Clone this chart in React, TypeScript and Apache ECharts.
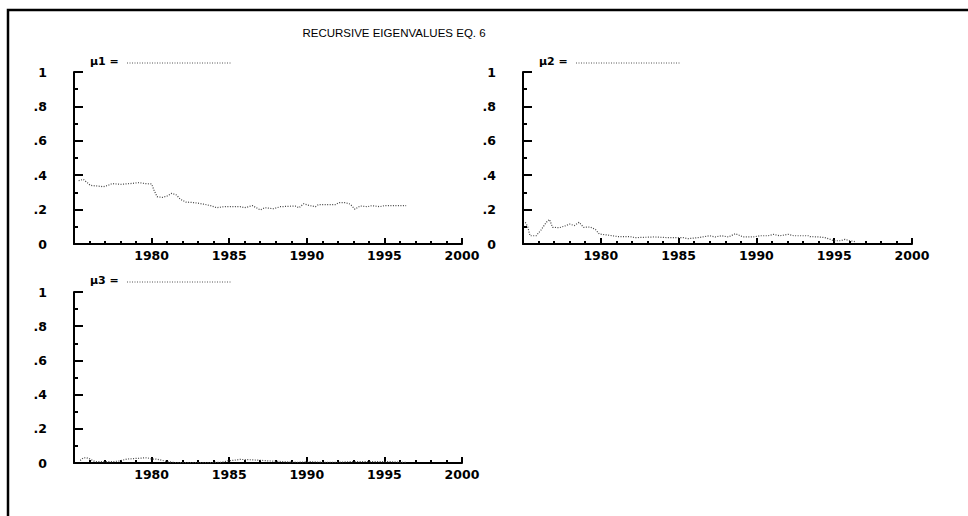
import React, { useEffect, useRef } from "react";
import * as echarts from "echarts";

const titleText = "RECURSIVE EIGENVALUES EQ. 6";
const legendNames = ["\u03bc1", "\u03bc2", "\u03bc3"];
const yTickLabels: Record<string, string> = { "0": "0", "0.2": ".2", "0.4": ".4", "0.6": ".6", "0.8": ".8", "1": "1" };

const mu1Years = [1975.3, 1975.6, 1975.85, 1976.05, 1976.5, 1976.9, 1977.2, 1977.45, 1978.0, 1978.6, 1979.2, 1979.6, 1980.0, 1980.15, 1980.35, 1980.7, 1981.0, 1981.3, 1981.6, 1981.85, 1982.2, 1982.8, 1983.4, 1983.8, 1984.2, 1984.65, 1985.7, 1986.0, 1986.5, 1987.0, 1987.3, 1987.85, 1988.3, 1989.25, 1989.5, 1989.8, 1990.2, 1990.55, 1990.75, 1991.85, 1992.05, 1992.5, 1992.8, 1993.1, 1993.45, 1993.9, 1994.2, 1994.7, 1995.0, 1996.4];
const mu1Values = [0.368, 0.376, 0.357, 0.341, 0.337, 0.333, 0.341, 0.351, 0.347, 0.351, 0.357, 0.351, 0.349, 0.314, 0.275, 0.271, 0.279, 0.295, 0.285, 0.26, 0.244, 0.24, 0.231, 0.223, 0.211, 0.217, 0.217, 0.211, 0.223, 0.198, 0.211, 0.205, 0.217, 0.221, 0.211, 0.234, 0.223, 0.217, 0.229, 0.229, 0.24, 0.24, 0.232, 0.202, 0.221, 0.217, 0.223, 0.217, 0.223, 0.223];

const mu2Years = [1975.15, 1975.3, 1975.45, 1975.85, 1976.15, 1976.5, 1976.7, 1976.9, 1977.35, 1977.7, 1978.0, 1978.3, 1978.6, 1978.9, 1979.3, 1979.65, 1979.9, 1980.45, 1981.1, 1981.85, 1982.2, 1983.45, 1984.3, 1985.3, 1985.6, 1986.25, 1987.0, 1987.35, 1987.75, 1988.2, 1988.65, 1989.15, 1989.8, 1990.25, 1990.75, 1991.1, 1991.5, 1992.05, 1992.4, 1993.35, 1993.45, 1994.0, 1994.4, 1994.75, 1994.95, 1995.4, 1995.7, 1996.0, 1996.35];
const mu2Values = [0.126, 0.101, 0.048, 0.048, 0.081, 0.126, 0.143, 0.097, 0.095, 0.105, 0.116, 0.107, 0.126, 0.097, 0.099, 0.085, 0.058, 0.052, 0.043, 0.043, 0.037, 0.041, 0.037, 0.037, 0.031, 0.037, 0.048, 0.041, 0.048, 0.041, 0.06, 0.041, 0.041, 0.048, 0.048, 0.056, 0.048, 0.056, 0.048, 0.048, 0.043, 0.041, 0.037, 0.027, 0.019, 0.019, 0.027, 0.019, 0.014];

const mu3Years = [1975.4, 1975.6, 1975.8, 1976.05, 1976.35, 1976.9, 1977.5, 1977.95, 1978.4, 1979.05, 1979.7, 1980.0, 1980.3, 1980.65, 1981.0, 1981.5, 1982.5, 1983.5, 1984.5, 1984.9, 1985.3, 1985.7, 1986.35, 1987.0, 1987.6, 1988.5, 1989.4, 1990.2, 1991.1, 1991.9, 1992.8, 1993.7, 1994.5, 1995.4, 1996.0, 1996.4];
const mu3Values = [0.015, 0.03, 0.031, 0.023, 0.008, 0.008, 0.008, 0.012, 0.023, 0.027, 0.031, 0.023, 0.023, 0.016, 0.008, 0.003, 0.002, 0.002, 0.004, 0.012, 0.016, 0.021, 0.019, 0.016, 0.012, 0.008, 0.004, 0.008, 0.004, 0.004, 0.008, 0.008, 0.008, 0.008, 0.004, 0.003];

const zip = (xs: number[], ys: number[]) => xs.map((x, i) => [x, ys[i]]);

const grids = [
  { left: 74, top: 72, width: 388, height: 172 },
  { left: 523, top: 72, width: 389, height: 172 },
  { left: 74, top: 292, width: 388, height: 171 },
];

const labelFont = { fontFamily: "DejaVu Sans", fontWeight: "bold" as const, fontSize: 12.5, color: "#000" };

export default function App() {
  const ref = useRef<HTMLDivElement>(null);
  useEffect(() => {
    document.body.style.margin = "0";
    const chart = echarts.init(ref.current!, null, { renderer: "svg" });
    const xAxes = grids.map((_, i) => ({
      type: "value",
      gridIndex: i,
      min: 1975,
      max: 2000,
      interval: 5,
      axisLine: { show: true, onZero: false, lineStyle: { color: "#000", width: 2 } },
      axisTick: { show: true, inside: true, length: 6, lineStyle: { color: "#000", width: 2 } },
      minorTick: { show: true, splitNumber: 5, length: 3, lineStyle: { color: "#000", width: 2 } },
      splitLine: { show: false },
      axisLabel: {
        ...labelFont,
        margin: 5,
        formatter: (v: number) => (v === 1975 ? "" : String(v)),
      },
    }));
    const yAxes = grids.map((_, i) => ({
      type: "value",
      gridIndex: i,
      min: 0,
      max: 1,
      interval: 0.2,
      axisLine: { show: true, lineStyle: { color: "#000", width: 2 } },
      axisTick: { show: true, inside: true, length: 9, lineStyle: { color: "#000", width: 2 } },
      minorTick: { show: true, splitNumber: 2, length: 4, lineStyle: { color: "#000", width: 2 } },
      splitLine: { show: false },
      axisLabel: {
        ...labelFont,
        margin: 27,
        formatter: (v: number) => yTickLabels[String(Math.round(v * 10) / 10)] ?? "",
      },
    }));
    const seriesData = [zip(mu1Years, mu1Values), zip(mu2Years, mu2Values), zip(mu3Years, mu3Values)];
    const legendPos = [
      { x: 90, y: 61 },
      { x: 539, y: 61 },
      { x: 90, y: 280 },
    ];
    const graphics: any[] = [
      {
        type: "rect",
        shape: { x: 8, y: 10, width: 1100, height: 700 },
        style: { fill: "none", stroke: "#000", lineWidth: 2.5 },
        silent: true,
      },
      {
        type: "text",
        x: 394,
        y: 33,
        style: {
          text: titleText,
          fontFamily: "Liberation Sans",
          fontSize: 11.5,
          fill: "#000",
          textAlign: "center",
          textVerticalAlign: "middle",
        },
      },
    ];
    legendPos.forEach((p, i) => {
      graphics.push({
        type: "text",
        x: p.x,
        y: p.y,
        style: {
          text: legendNames[i] + " =",
          fontFamily: "DejaVu Sans",
          fontWeight: "bold",
          fontSize: 11,
          fill: "#000",
          textVerticalAlign: "middle",
        },
      });
      graphics.push({
        type: "line",
        shape: { x1: p.x + 37, y1: p.y + 2, x2: p.x + 142, y2: p.y + 2 },
        style: { stroke: "#555", lineWidth: 1, lineDash: [1, 1.5] },
      });
    });
    chart.setOption({
      animation: false,
      backgroundColor: "#fff",
      grid: grids.map((g) => ({ ...g, containLabel: false })),
      xAxis: xAxes,
      yAxis: yAxes,
      series: seriesData.map((d, i) => ({
        type: "line",
        xAxisIndex: i,
        yAxisIndex: i,
        data: d,
        showSymbol: false,
        lineStyle: { color: "#444", width: 1.2, type: [1, 1.5] },
      })),
      graphic: graphics,
    });
    return () => chart.dispose();
  }, []);
  return <div ref={ref} style={{ width: 968, height: 516 }} />;
}
